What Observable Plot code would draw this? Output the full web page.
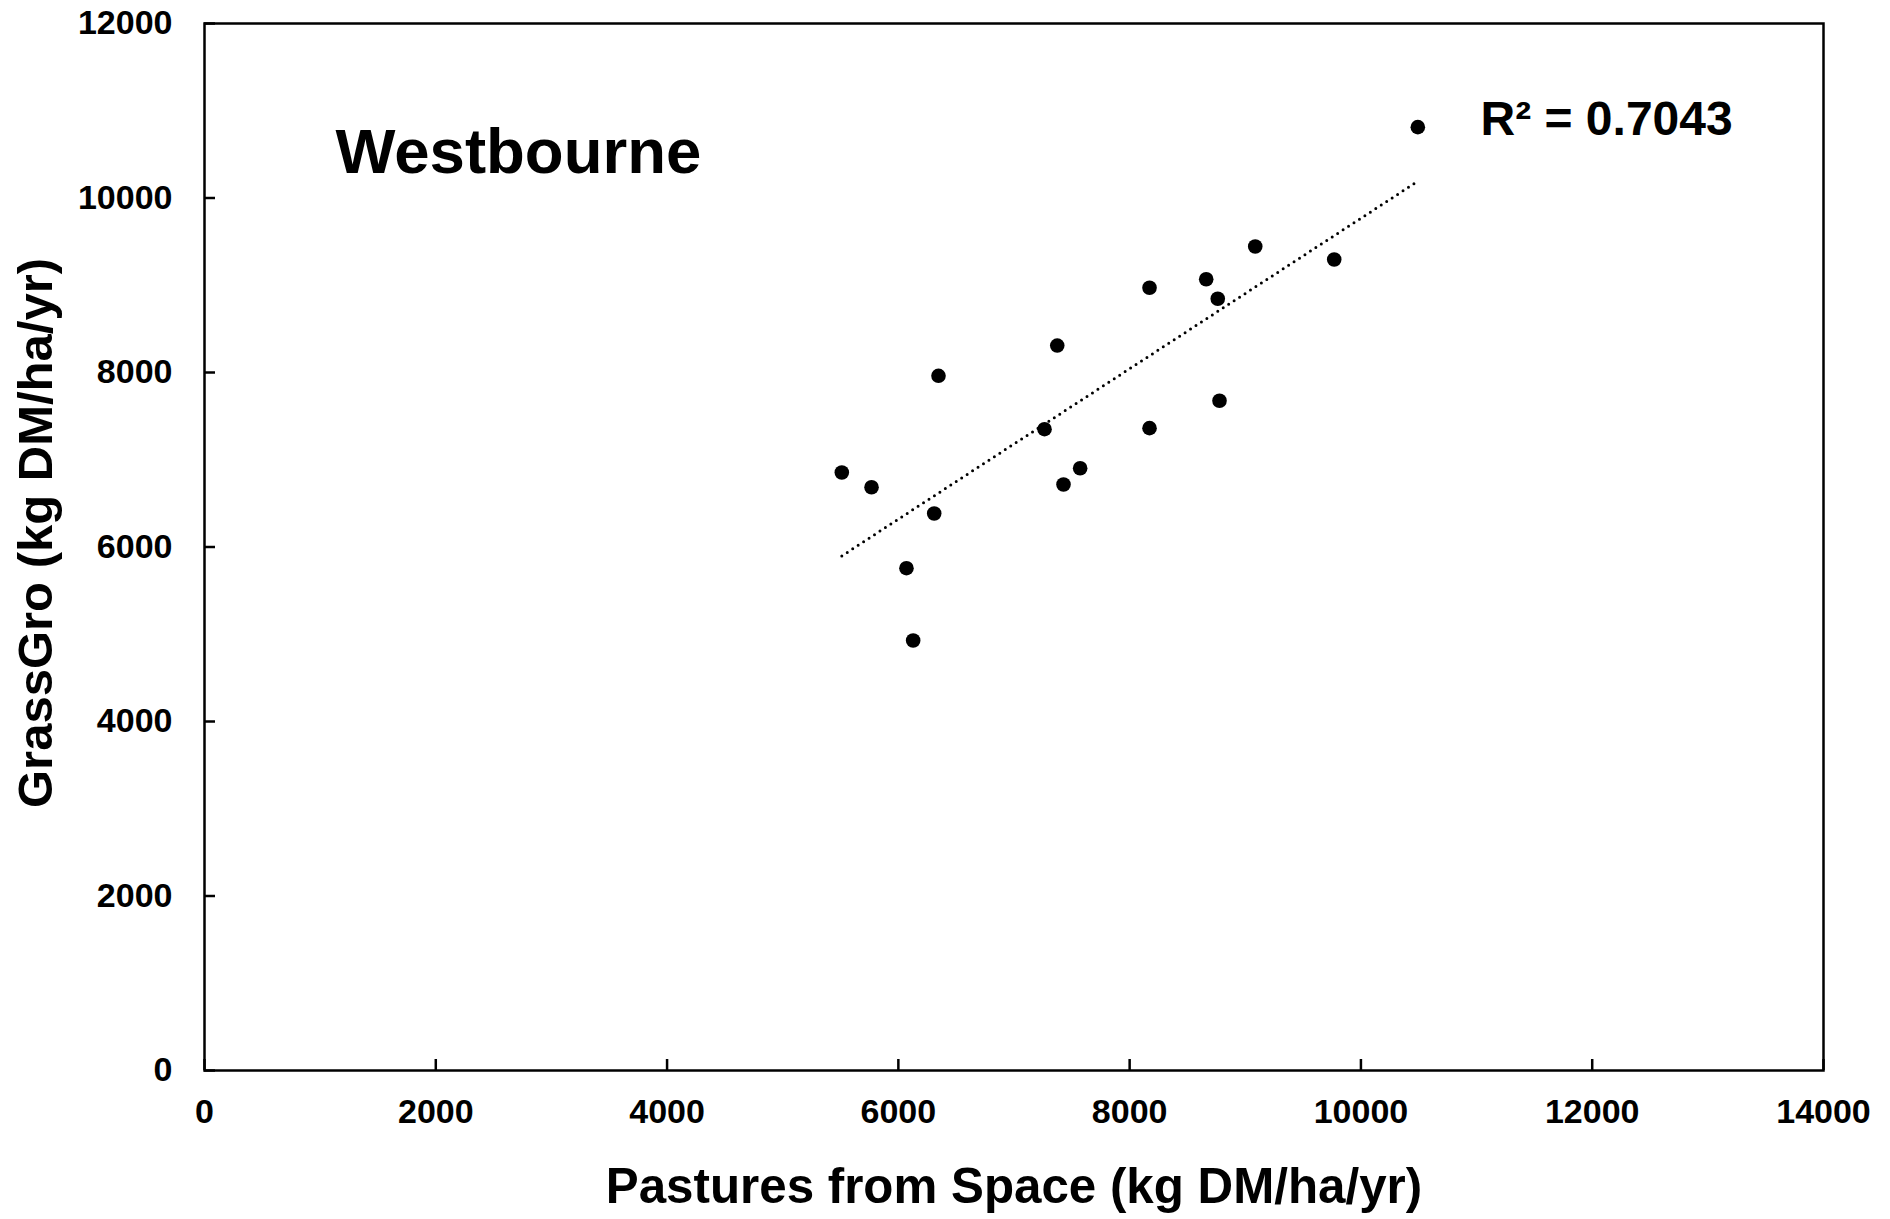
<!DOCTYPE html>
<html>
<head>
<meta charset="utf-8">
<script src="https://cdn.jsdelivr.net/npm/d3@7"></script>
<script src="https://cdn.jsdelivr.net/npm/@observablehq/plot@0.6"></script>
<style>
  html, body { margin: 0; padding: 0; background: #fff; }
  #chart svg { display: block; }
</style>
</head>
<body>
<div id="chart"></div>
<script>
// Pastures from Space (kg DM/ha/yr) vs GrassGro (kg DM/ha/yr) — Westbourne
const pastures = [10492, 9086, 9769, 8662, 8172, 8762, 7374, 6347, 8777, 7264, 8172, 5511, 7572, 5768, 7428, 6310, 6070, 6128];
const grassgro = [10812, 9444, 9295, 9069, 8971, 8845, 8309, 7962, 7676, 7350, 7362, 6854, 6903, 6685, 6716, 6384, 5757, 4928];
const xTicks = [0, 2000, 4000, 6000, 8000, 10000, 12000, 14000];
const yTicks = [0, 2000, 4000, 6000, 8000, 10000, 12000];
const siteLabel = "Westbourne";
const r2Label = "R² = 0.7043";
const xTitle = "Pastures from Space (kg DM/ha/yr)";
const yTitle = "GrassGro (kg DM/ha/yr)";

const points = pastures.map((x, i) => ({x, y: grassgro[i]}));
const font = "'Liberation Sans', Arial, Helvetica, sans-serif";

const chart = Plot.plot({
  width: 1890,
  height: 1219,
  marginLeft: 204,
  marginRight: 67,
  marginTop: 23,
  marginBottom: 149,
  style: {fontFamily: font, background: "#fff", color: "#000", overflow: "visible"},
  x: {domain: [0, 14000]},
  y: {domain: [0, 12000]},
  marks: [
    // tick labels
    Plot.axisX({ticks: xTicks, tickSize: 0, tickPadding: 28, tickFormat: d => String(d),
      fontSize: 34, fontWeight: "bold", label: null}),
    Plot.axisY({ticks: yTicks, tickSize: 0, tickPadding: 32, tickFormat: d => String(d),
      fontSize: 34, fontWeight: "bold", label: null}),
    // inward tick marks
    Plot.axisX({ticks: xTicks, tickSize: 11, dy: -11, fill: "none", strokeWidth: 2.5, label: null}),
    Plot.axisY({ticks: yTicks, tickSize: 11, dx: 11, fill: "none", strokeWidth: 2.5, label: null}),
    Plot.frame({stroke: "#000", strokeWidth: 2.5}),
    // trend line
    Plot.linearRegressionY(points, {x: "x", y: "y", ci: 0, stroke: "#000", strokeWidth: 3,
      strokeDasharray: "0,6.5", strokeLinecap: "round"}),
    Plot.dot(points, {x: "x", y: "y", r: 7.3, fill: "#000", stroke: "none"}),
    // annotations
    Plot.text([siteLabel], {frameAnchor: "top-left", text: d => d, dx: 131, dy: 149,
      lineAnchor: "bottom", textAnchor: "start", fontSize: 63.5, fontWeight: "bold", fill: "#000"}),
    Plot.text([r2Label], {frameAnchor: "top-left", text: d => d, dx: 1276, dy: 111,
      lineAnchor: "bottom", textAnchor: "start", fontSize: 48, fontWeight: "bold", fill: "#000"}),
    // axis titles
    Plot.text([xTitle], {frameAnchor: "bottom", text: d => d, dy: 117, lineAnchor: "middle",
      textAnchor: "middle", fontSize: 49.3, fontWeight: "bold", fill: "#000"}),
    Plot.text([yTitle], {frameAnchor: "left", text: d => d, dx: -168, dy: -14, rotate: -90,
      lineAnchor: "middle", textAnchor: "middle", fontSize: 49, fontWeight: "bold", fill: "#000"})
  ]
});
document.getElementById("chart").appendChild(chart);
</script>
</body>
</html>
